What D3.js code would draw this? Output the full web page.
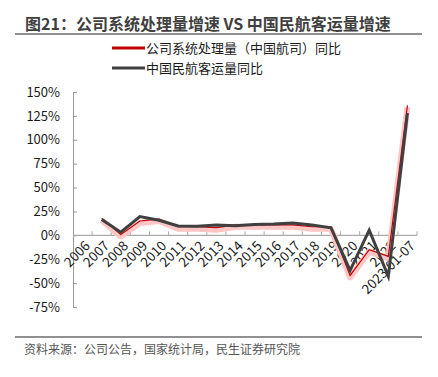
<!DOCTYPE html>
<html>
<head>
<meta charset="utf-8">
<script src="https://cdn.jsdelivr.net/npm/d3@7"></script>
<style>
  body { margin: 0; background: #fff; }
  text { font-family: "Noto Sans CJK SC", "Noto Sans", sans-serif; }
</style>
</head>
<body>
<div id="chart"></div>
<script>
const categories = ["2006", "2007", "2008", "2009", "2010", "2011", "2012", "2013", "2014",
  "2015", "2016", "2017", "2018", "2019", "2020", "2021", "2022", "2023.01-07"];
// 公司系统处理量（中国航司）同比, %
const systemGrowth = [null, 18, 1, 15, 17, 9, 9, 8, 11, 11, 11, 11, 9, 9, -42, -15, -22, 136];
// 中国民航客运量同比, %
const passengerGrowth = [null, 16.5, 3.3, 19.7, 15.8, 9.8, 9.5, 10.8, 10.1, 11.3, 11.9, 13.0, 10.9, 7.9, -36.7, 5.5, -42.9, 128];
const yTicks = [-75, -50, -25, 0, 25, 50, 75, 100, 125, 150];

const width = 438;
const height = 377;
const margin = { top: 92, right: 21, bottom: 71, left: 73 };

const svg = d3.select("#chart")
  .append("svg")
  .attr("width", width)
  .attr("height", height);

// Title
svg.append("text")
  .attr("x", 25)
  .attr("y", 30)
  .style("font-size", "16px")
  .style("font-weight", "bold")
  .style("fill", "#3f3f3f")
  .text("图21：公司系统处理量增速 VS 中国民航客运量增速");

svg.append("line")
  .attr("x1", 15).attr("x2", 422)
  .attr("y1", 34).attr("y2", 34)
  .attr("stroke", "#6b6b6b")
  .attr("stroke-width", 1.5);

// Legend
const legend = [
  { name: "公司系统处理量（中国航司）同比", color: "#c00000" },
  { name: "中国民航客运量同比", color: "#404040" }
];
legend.forEach((d, i) => {
  const y = 48 + i * 20;
  svg.append("line")
    .attr("x1", 112).attr("x2", 145)
    .attr("y1", y).attr("y2", y)
    .attr("stroke", d.color)
    .attr("stroke-width", 3);
  svg.append("text")
    .attr("x", 146)
    .attr("y", y + 4.5)
    .style("font-size", "13px")
    .style("fill", "#1a1a1a")
    .text(d.name);
});

const x = d3.scaleBand()
  .domain(categories)
  .range([margin.left, width - margin.right]);

const y = d3.scaleLinear()
  .domain([-75, 150])
  .range([height - margin.bottom + 1, margin.top]);

// Y Axis
const yAxis = svg.append("g")
  .attr("transform", `translate(${margin.left},0)`)
  .call(d3.axisLeft(y).tickValues(yTicks).tickSize(-4).tickPadding(13)
    .tickFormat(d => d + "%"));
yAxis.select(".domain").attr("stroke", "#999");
yAxis.selectAll(".tick line").attr("stroke", "#999");
yAxis.selectAll("text")
  .style("font-size", "13px")
  .style("fill", "#1a1a1a")
  .style("font-family", "\"Noto Sans CJK SC\", sans-serif");

// X Axis at 0%
const x0 = y(0);
const xAxis = svg.append("g")
  .attr("transform", `translate(0,${x0})`);
xAxis.append("line")
  .attr("x1", margin.left).attr("x2", width - margin.right)
  .attr("stroke", "#aaa")
  .attr("stroke-width", 1.2);
xAxis.selectAll(".tk")
  .data(categories.slice(1).concat(["end"]))
  .join("line")
  .attr("x1", (d, i) => x.range()[0] + x.step() * (i + 1))
  .attr("x2", (d, i) => x.range()[0] + x.step() * (i + 1))
  .attr("y1", 0).attr("y2", -4)
  .attr("stroke", "#aaa");
xAxis.selectAll(".lbl")
  .data(categories)
  .join("text")
  .attr("text-anchor", "end")
  .attr("transform", d => `translate(${x(d) + x.bandwidth() / 2 + 5},${8}) rotate(-45)`)
  .attr("dy", "0.35em")
  .style("font-size", "13.5px")
  .style("fill", "#1a1a1a")
  .text(d => d);

const line = d3.line()
  .defined(d => d.v != null)
  .x(d => x(d.c) + x.bandwidth() / 2)
  .y(d => y(d.v));

const sysData = categories.map((c, i) => ({ c, v: systemGrowth[i] }));
const paxData = categories.map((c, i) => ({ c, v: passengerGrowth[i] }));

// soft glow under the red series
svg.append("path")
  .datum(sysData)
  .attr("transform", "translate(0,2)")
  .attr("fill", "none")
  .attr("stroke", "#ffc4c4")
  .attr("stroke-width", 6)
  .attr("stroke-linejoin", "round")
  .attr("d", line);

svg.append("path")
  .datum(sysData)
  .attr("fill", "none")
  .attr("stroke", "#c00000")
  .attr("stroke-width", 1.2)
  .attr("d", line);

svg.append("path")
  .datum(paxData)
  .attr("fill", "none")
  .attr("stroke", "#404040")
  .attr("stroke-width", 3)
  .attr("d", line);

// Footer
svg.append("line")
  .attr("x1", 15).attr("x2", 422)
  .attr("y1", 337).attr("y2", 337)
  .attr("stroke", "#6b6b6b")
  .attr("stroke-width", 1.5);

svg.append("text")
  .attr("x", 24)
  .attr("y", 354)
  .style("font-size", "12px")
  .style("fill", "#555")
  .text("资料来源：公司公告，国家统计局，民生证券研究院");
</script>
</body>
</html>
